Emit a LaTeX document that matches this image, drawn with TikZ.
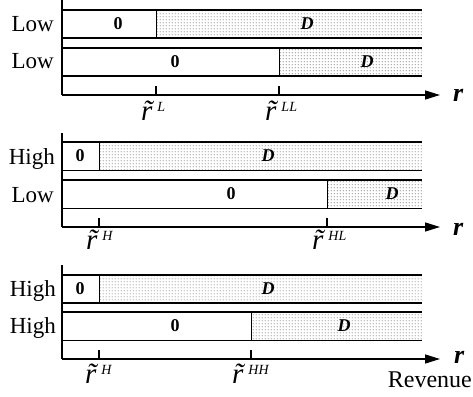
\documentclass[tikz,border=0pt]{standalone}
\usepackage{fontspec}
\setmainfont{Liberation Serif}
\usetikzlibrary{patterns,arrows.meta}
\pgfdeclarepatternformonly{mydots}{\pgfqpoint{0pt}{0pt}}{\pgfqpoint{3pt}{3pt}}{\pgfqpoint{3pt}{3pt}}{\pgfpathcircle{\pgfqpoint{1.5pt}{1.5pt}}{0.6pt}\pgfusepath{fill}}
\tikzset{
  rowline/.style={line width=1.6pt},
  splitline/.style={line width=0.8pt},
  axisline/.style={line width=1.4pt},
  arrowaxis/.style={line width=1.4pt,-{Triangle[length=15pt,width=9pt]}},
  dotfill/.style={pattern=mydots,pattern color=black!85},
  tick/.style={line width=1.2pt},
  rowlab/.style={font=\fontsize{23}{23}\selectfont,anchor=base east,inner sep=0pt},
  zerolab/.style={font=\fontsize{18}{18}\selectfont\bfseries,inner sep=0pt},
  dlab/.style={font=\fontsize{18}{18}\selectfont\bfseries\itshape,inner sep=0pt},
  rlab/.style={font=\fontsize{26}{26}\selectfont\bfseries\itshape,anchor=base west,inner sep=0pt},
  rtlab/.style={font=\fontsize{29}{29}\selectfont\itshape,anchor=base west,inner sep=0pt},
  revlab/.style={font=\fontsize{24}{24}\selectfont,anchor=base east,inner sep=0pt}
}
\newcommand{\rtil}[1]{\~{r}\hspace{5pt}\raisebox{9pt}{\fontsize{14}{14}\selectfont #1}}
\begin{document}
\begin{tikzpicture}[x=1pt,y=-1pt]
\useasboundingbox (0,0) rectangle (473,396);
% ---------- Panel 1 ----------
\coordinate (a1t) at (62,0);
\coordinate (a1o) at (62,95);
\coordinate (a1e) at (440,95);
\fill[dotfill] (156,10) rectangle (422,38);
\fill[dotfill] (279,48) rectangle (422,76);
\draw[rowline] (62,10) -- (422,10) (62,38) -- (422,38);
\draw[rowline] (62,48) -- (422,48) (62,76) -- (422,76);
\draw[splitline] (156,10) -- (156,38);
\draw[splitline] (279,48) -- (279,76);
\draw[axisline] (a1t) -- (a1o);
\draw[arrowaxis] (a1o) -- (a1e);
\draw[tick] (156,95) -- (156,86);
\draw[tick] (279,95) -- (279,86);
\node[rowlab] (p1r1) at (54,32) {Low};
\node[rowlab] (p1r2) at (54,68.5) {Low};
\node[zerolab] (p1z1) at (118,24) {0};
\node[zerolab] (p1z2) at (175,62) {0};
\node[dlab] (p1d1) at (307,24) {D};
\node[dlab] (p1d2) at (367,62) {D};
\node[rlab] (p1r) at (453,101) {r};
\node[rtlab] (p1t1) at (141,120) {\rtil{L}};
\node[rtlab] (p1t2) at (265,120) {\rtil{LL}};
% ---------- Panel 2 ----------
\coordinate (a2t) at (62,133);
\coordinate (a2o) at (62,227);
\coordinate (a2e) at (440,227);
\fill[dotfill] (99,142) rectangle (422,170.5);
\fill[dotfill] (327,180) rectangle (422,208.5);
\draw[rowline] (62,142) -- (422,142) (62,170.5) -- (422,170.5);
\draw[rowline] (62,180) -- (422,180) (62,208.5) -- (422,208.5);
\draw[splitline] (99,142) -- (99,170.5);
\draw[splitline] (327,180) -- (327,208.5);
\draw[axisline] (a2t) -- (a2o);
\draw[arrowaxis] (a2o) -- (a2e);
\draw[tick] (99,227) -- (99,218);
\draw[tick] (327,227) -- (327,218);
\node[rowlab] (p2r1) at (55,164.5) {High};
\node[rowlab] (p2r2) at (54,202.5) {Low};
\node[zerolab] (p2z1) at (80,156) {0};
\node[zerolab] (p2z2) at (231,194) {0};
\node[dlab] (p2d1) at (268,156) {D};
\node[dlab] (p2d2) at (392,194) {D};
\node[rlab] (p2r) at (453,235) {r};
\node[rtlab] (p2t1) at (86,249) {\rtil{H}};
\node[rtlab] (p2t2) at (312,249) {\rtil{HL}};
% ---------- Panel 3 ----------
\coordinate (a3t) at (62,265);
\coordinate (a3o) at (62,359);
\coordinate (a3e) at (440,359);
\fill[dotfill] (99,275) rectangle (422,303);
\fill[dotfill] (251,312) rectangle (422,340.5);
\draw[rowline] (62,275) -- (422,275) (62,303) -- (422,303);
\draw[rowline] (62,312) -- (422,312) (62,340.5) -- (422,340.5);
\draw[splitline] (99,275) -- (99,303);
\draw[splitline] (251,312) -- (251,340.5);
\draw[axisline] (a3t) -- (a3o);
\draw[arrowaxis] (a3o) -- (a3e);
\draw[tick] (99,359) -- (99,350);
\draw[tick] (251,359) -- (251,350);
\node[rowlab] (p3r1) at (56,296) {High};
\node[rowlab] (p3r2) at (56,333.5) {High};
\node[zerolab] (p3z1) at (80,289) {0};
\node[zerolab] (p3z2) at (175,326) {0};
\node[dlab] (p3d1) at (268,289) {D};
\node[dlab] (p3d2) at (344,326) {D};
\node[rlab] (p3r) at (454,363) {r};
\node[revlab] (p3rev) at (472,387) {Revenue};
\node[rtlab] (p3t1) at (85,383) {\rtil{H}};
\node[rtlab] (p3t2) at (232,383) {\rtil{HH}};
\end{tikzpicture}
\end{document}
